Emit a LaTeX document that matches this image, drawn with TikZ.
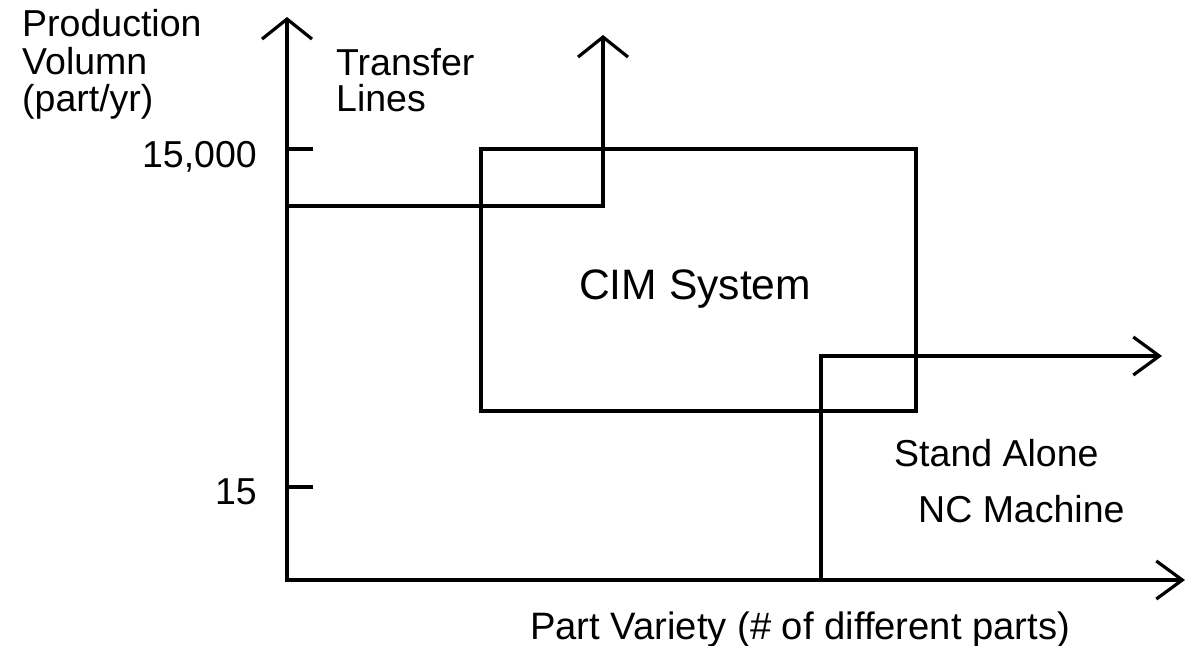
\documentclass[tikz,border=0pt]{standalone}
\usepackage{fontspec}
\setmainfont{Liberation Sans}
\usetikzlibrary{arrows.meta}
\tikzset{
  ln/.style={line width=3.2pt, line cap=butt, line join=miter},
  vtip/.style={-{Straight Barb[length=20pt,width=50pt]}},
  htip/.style={-{Straight Barb[length=26pt,width=38pt]}},
  lbl/.style={inner sep=0pt, anchor=base west, font=\fontsize{37.5}{38}\selectfont},
  big/.style={inner sep=0pt, anchor=base west, font=\fontsize{42.6}{44}\selectfont}
}
\begin{document}
\begin{tikzpicture}[x=1pt,y=-1pt]
\useasboundingbox (0,0) rectangle (1198,645);
% coordinates
\coordinate (O) at (287,580);
\coordinate (ytop) at (287,17);
\coordinate (xend) at (1185,580);
\coordinate (t1a) at (287,149);
\coordinate (t1b) at (313,149);
\coordinate (t2a) at (287,487);
\coordinate (t2b) at (313,487);
\coordinate (tl0) at (287,206);
\coordinate (tl1) at (603,206);
\coordinate (tl2) at (603,35);
\coordinate (sa0) at (821,580);
\coordinate (sa1) at (821,356);
\coordinate (sa2) at (1162,356);
% axes
\draw[ln,vtip] ([yshift=1.6pt]O) -- (ytop);
\draw[ln,htip] ([xshift=-1.6pt]O) -- (xend);
\draw[ln] (t1a) -- (t1b);
\draw[ln] (t2a) -- (t2b);
% transfer lines
\draw[ln,vtip] (tl0) -- (tl1) -- (tl2);
% CIM box
\draw[ln] (481,149) rectangle (916,411);
% stand alone
\draw[ln,htip] (sa0) -- (sa1) -- (sa2);
% labels
\node[lbl] (pv1) at (22,36) {Production};
\node[lbl] (pv2) at (22,74) {Volumn};
\node[lbl] (pv3) at (22,111) {(part/yr)};
\node[lbl] (tr1) at (336,75) {Transfer};
\node[lbl] (tr2) at (336,111) {Lines};
\node[lbl, anchor=base east] (v1) at (257,167) {15,000};
\node[lbl, anchor=base east] (v2) at (257,504) {15};
\node[big] (cim) at (579,299) {CIM System};
\node[lbl] (sa) at (894,466) {Stand Alone};
\node[lbl] (nc) at (918,522) {NC Machine};
\node[lbl, anchor=base, font=\fontsize{38.2}{39}\selectfont] (pv) at (800,639) {Part Variety (\# of different parts)};
\end{tikzpicture}
\end{document}
